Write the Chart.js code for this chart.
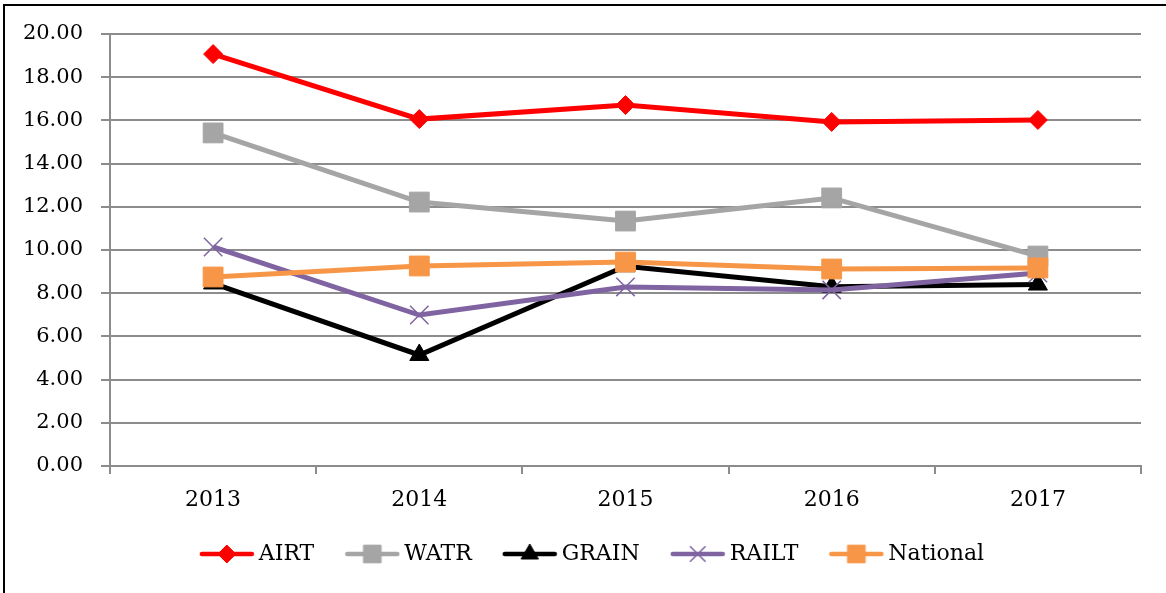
<!DOCTYPE html>
<html>
<head>
<meta charset="utf-8">
<script src="https://cdn.jsdelivr.net/npm/chart.js@4/dist/chart.umd.min.js"></script>
<style>
  html, body { margin: 0; padding: 0; background: #fff; }
  #wrap { position: relative; width: 1166px; height: 593px; overflow: hidden; }
  #frame { position: absolute; left: 3px; top: 4px; right: -10px; bottom: -10px;
           border-left: 2px solid #000; border-top: 2px solid #000; pointer-events: none; }
  canvas { position: absolute; left: 0; top: 0; }
</style>
</head>
<body>
<div id="wrap">
  <canvas id="c" width="1166" height="593"></canvas>
  <div id="frame"></div>
</div>
<script>
const categories = ['2013', '2014', '2015', '2016', '2017'];
const airt     = [19.07, 16.06, 16.71, 15.93, 16.02];
const watr     = [15.42, 12.22, 11.34, 12.41, 9.72];
const grain    = [8.45, 5.14, 9.25, 8.30, 8.40];
const railt    = [10.14, 6.99, 8.29, 8.15, 8.93];
const national = [8.75, 9.26, 9.44, 9.12, 9.17];
const yTickMin = 0, yTickMax = 20, yTickStep = 2;

const FONT = "'DejaVu Serif', 'Liberation Serif', serif";
const GRID = '#8c8c8c';

const seriesStyles = [
  { label: 'AIRT',     data: airt,     color: '#ff0000', pointStyle: 'rectRot',  radius: 9.5, pbw: 1,   legR: 9,  order: 5 },
  { label: 'WATR',     data: watr,     color: '#a5a5a5', pointStyle: 'rect',     radius: 14,  pbw: 1,   legR: 12.5, order: 4 },
  { label: 'GRAIN',    data: grain,    color: '#000000', pointStyle: 'triangle', radius: 11,  pbw: 1,   legR: 10, order: 3 },
  { label: 'RAILT',    data: railt,    color: '#8064a2', pointStyle: 'crossRot', radius: 13,  pbw: 1.5, legR: 11, order: 2 },
  { label: 'National', data: national, color: '#f79646', pointStyle: 'rect',     radius: 14,  pbw: 1,   legR: 12.5, order: 1 }
];

function legendImage(s) {
  const cv = document.createElement('canvas');
  cv.width = 56; cv.height = 24;
  const ctx = cv.getContext('2d');
  ctx.strokeStyle = s.color;
  ctx.lineWidth = 4.5;
  ctx.lineCap = 'round';
  ctx.beginPath(); ctx.moveTo(3, 12); ctx.lineTo(53, 12); ctx.stroke();
  ctx.fillStyle = s.color;
  ctx.strokeStyle = s.color;
  ctx.lineWidth = s.pbw;
  ctx.lineCap = 'butt';
  if (Chart.helpers && Chart.helpers.drawPoint) {
    Chart.helpers.drawPoint(ctx, { pointStyle: s.pointStyle, radius: s.legR, rotation: 0, borderWidth: s.pbw }, 28, 12);
  }
  return cv;
}
const legendImgs = seriesStyles.map(legendImage);

const datasets = seriesStyles.map(s => ({
  label: s.label,
  data: s.data,
  borderColor: s.color,
  backgroundColor: s.color,
  borderWidth: 5,
  pointStyle: s.pointStyle,
  pointRadius: s.radius,
  pointHoverRadius: s.radius,
  pointBackgroundColor: s.color,
  pointBorderColor: s.color,
  pointBorderWidth: s.pbw,
  tension: 0,
  order: s.order
}));

const legendShift = {
  id: 'legendShift',
  afterLayout(chart) {
    if (chart.legend) { chart.legend.left += 17; chart.legend.right += 17; }
  }
};

new Chart(document.getElementById('c'), {
  type: 'line',
  data: { labels: categories, datasets },
  plugins: [legendShift],
  options: {
    responsive: false,
    animation: false,
    layout: { padding: { left: 15, right: 25, top: 34, bottom: 18 } },
    plugins: {
      tooltip: { enabled: false },
      legend: {
        position: 'bottom',
        labels: {
          usePointStyle: true,
          pointStyleWidth: 42,
          padding: 37,
          color: '#000',
          font: { family: FONT, size: 22 },
          sort: (a, b) => a.datasetIndex - b.datasetIndex,
          generateLabels: (chart) => {
            const items = Chart.defaults.plugins.legend.labels.generateLabels(chart);
            items.forEach(it => { it.pointStyle = legendImgs[it.datasetIndex]; it.rotation = 0; });
            return items;
          }
        }
      }
    },
    scales: {
      x: {
        offset: true,
        grid: { display: true, drawOnChartArea: false, drawTicks: true, tickLength: 8, offset: true, color: GRID, lineWidth: 2 },
        border: { display: true, color: GRID, width: 2 },
        ticks: { color: '#000', font: { family: FONT, size: 22 }, padding: 13, maxRotation: 0 },
        afterFit: (scale) => { scale.height = 40; }
      },
      y: {
        min: yTickMin, max: yTickMax,
        grid: { color: GRID, lineWidth: 2, drawTicks: true, tickLength: 9 },
        border: { display: true, color: GRID, width: 2 },
        ticks: { stepSize: yTickStep, color: '#000', font: { family: FONT, size: 21 }, padding: 18,
                 callback: (v) => Number(v).toFixed(2) },
        afterFit: (scale) => { scale.width = 95; }
      }
    }
  }
});
</script>
</body>
</html>
